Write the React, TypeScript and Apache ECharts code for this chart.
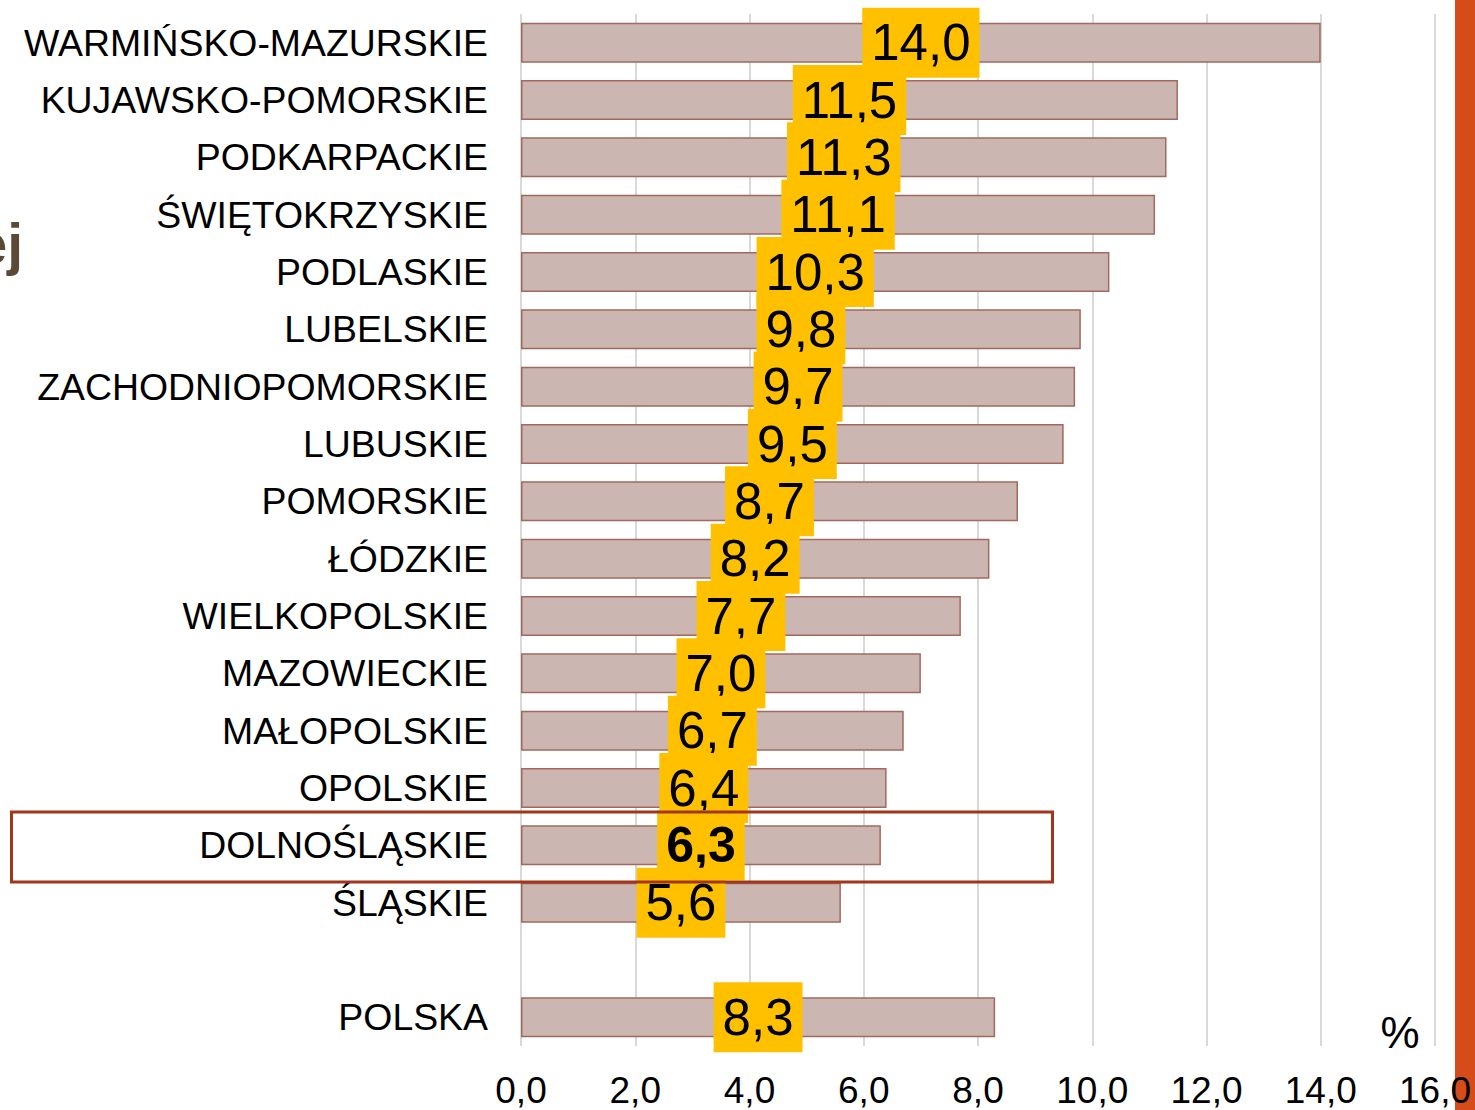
import React, { useEffect, useRef } from "react";
import * as echarts from "echarts";

const categories = [
  "WARMIŃSKO-MAZURSKIE",
  "KUJAWSKO-POMORSKIE",
  "PODKARPACKIE",
  "ŚWIĘTOKRZYSKIE",
  "PODLASKIE",
  "LUBELSKIE",
  "ZACHODNIOPOMORSKIE",
  "LUBUSKIE",
  "POMORSKIE",
  "ŁÓDZKIE",
  "WIELKOPOLSKIE",
  "MAZOWIECKIE",
  "MAŁOPOLSKIE",
  "OPOLSKIE",
  "DOLNOŚLĄSKIE",
  "ŚLĄSKIE",
  "",
  "POLSKA",
];
const values: (number | null)[] = [
  14.0, 11.5, 11.3, 11.1, 10.3, 9.8, 9.7, 9.5, 8.7, 8.2, 7.7, 7.0, 6.7, 6.4, 6.3, 5.6, null, 8.3,
];
const highlighted = "DOLNOŚLĄSKIE";
const xTicks = { min: 0, max: 16, interval: 2 };

const fmt = (v: number) => v.toFixed(1).replace(".", ",");

export default function App() {
  const ref = useRef<HTMLDivElement>(null);
  useEffect(() => {
    const chart = echarts.init(ref.current!, undefined, { renderer: "svg" });
    const font = "Liberation Sans, Arial, sans-serif";
    chart.setOption({
      animation: false,
      grid: { left: 521, right: 40, top: 14, bottom: 64, containLabel: false, z: 2 },
      xAxis: {
        type: "value",
        min: xTicks.min,
        max: xTicks.max,
        interval: xTicks.interval,
        axisLine: { show: false },
        axisTick: { show: false },
        splitLine: { show: true, lineStyle: { color: "#D9D9D9", width: 2 } },
        axisLabel: {
          formatter: (v: number) => fmt(v),
          fontSize: 37,
          color: "#000",
          fontFamily: font,
          margin: 26,
        },
      },
      yAxis: {
        type: "category",
        data: categories,
        inverse: true,
        axisLine: { show: false },
        axisTick: { show: false },
        splitLine: { show: false },
        axisLabel: { fontSize: 37.4, color: "#000", fontFamily: font, margin: 33 },
      },
      series: [
        {
          type: "bar",
          barWidth: 40,
          data: values.map((v, i) =>
            v === null
              ? "-"
              : {
                  value: v,
                  label: categories[i] === highlighted ? { fontWeight: "bold", fontSize: 50 } : undefined,
                }
          ),
          itemStyle: { color: "#CBB6B1", borderColor: "#A26A5E", borderWidth: 1.5 },
          label: {
            show: true,
            position: "inside",
            formatter: (p: any) => fmt(p.value),
            fontSize: 51,
            lineHeight: 51,
            color: "#000",
            fontFamily: font,
            backgroundColor: "#FFC000",
            padding: [10, 9, 9, 9],
          },
        },
      ],
      graphic: [
        {
          type: "rect",
          z: 100,
          shape: { x: 11.5, y: 812, width: 1041, height: 70 },
          style: { fill: "none", stroke: "#A0361A", lineWidth: 3 },
        },
        {
          type: "rect",
          z: -10,
          zlevel: 0,
          shape: { x: 1455, y: 0, width: 20, height: 1110 },
          style: { fill: "#D54B19" },
        },
        {
          type: "text",
          z: 100,
          x: 1400,
          y: 1032,
          style: {
            text: "%",
            fontSize: 44,
            fontFamily: font,
            fill: "#000",
            align: "center",
            verticalAlign: "middle",
          },
        },
        {
          type: "text",
          z: 100,
          x: 23,
          y: 244,
          style: {
            text: "ej",
            fontSize: 57,
            fontWeight: "bold",
            fontFamily: font,
            fill: "#5A4936",
            align: "right",
            verticalAlign: "middle",
          },
        },
      ],
    });
    return () => chart.dispose();
  }, []);
  return <div ref={ref} style={{ width: 1475, height: 1110, position: "absolute", left: 0, top: 0 }} />;
}
